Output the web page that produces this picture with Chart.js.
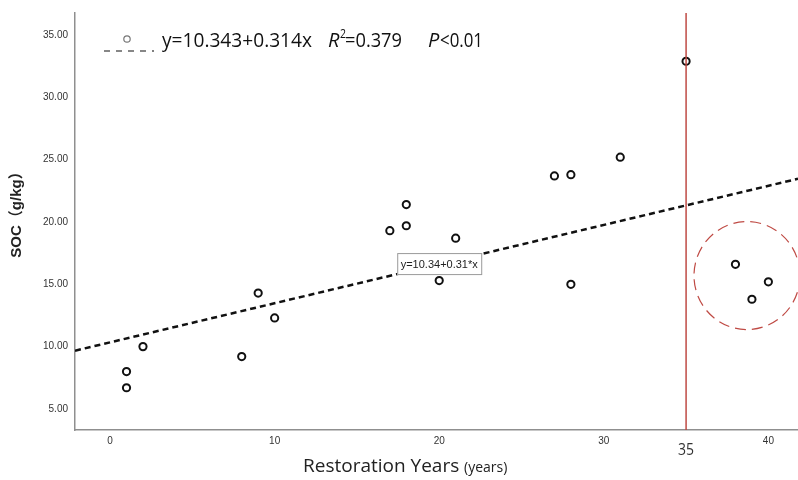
<!DOCTYPE html>
<html>
<head>
<meta charset="utf-8">
<script src="https://cdn.jsdelivr.net/npm/chart.js@4"></script>
<style>
  html, body { margin: 0; padding: 0; background: #fff; overflow: hidden; }
  #wrap { width: 798px; height: 480px; position: relative; }
  canvas { display: block; }
</style>
</head>
<body>
<div id="wrap"><canvas id="socChart"></canvas></div>
<script>
// Data
const years = [1, 1, 2, 8, 9, 10, 17, 18, 18, 20, 21, 27, 28, 28, 31, 35, 38, 39, 40];
const soc = [8.0, 6.7, 10.0, 9.2, 14.3, 12.3, 19.3, 21.4, 19.7, 15.3, 18.7, 23.7, 23.8, 15.0, 25.2, 32.9, 16.6, 13.8, 15.2];
const xTicks = [0, 10, 20, 30, 40];
const yTicks = [5, 10, 15, 20, 25, 30, 35];
const fitCoef = [10.343, 0.314];   // intercept, slope
const fitRange = [-2.13, 41.8];
const cutYear = [35];
const outlierZone = [38.7, 15.7];   // centre (year, SOC)

const axisGray = '#8f8f8f';
const red = '#bf4a44';

const fitPoints = fitRange.map(x => ({ x: x, y: fitCoef[0] + fitCoef[1] * x }));

const overlay = {
    id: 'overlay',
    afterDatasetsDraw(chart) {
        const ctx = chart.ctx;
        const xs = chart.scales.x, ys = chart.scales.y;
        const area = chart.chartArea;

        // vertical line at 35 years
        const cx = xs.getPixelForValue(cutYear[0]);
        ctx.save();
        ctx.strokeStyle = red;
        ctx.lineWidth = 1.5;
        ctx.beginPath();
        ctx.moveTo(cx, area.top);
        ctx.lineTo(cx, area.bottom);
        ctx.stroke();

        // dashed circle round the last three points
        const ex = xs.getPixelForValue(outlierZone[0]);
        const ey = ys.getPixelForValue(outlierZone[1]);
        ctx.setLineDash([11, 6]);
        ctx.lineWidth = 1.2;
        ctx.beginPath();
        ctx.ellipse(ex, ey, 53, 54, 0, 0, Math.PI * 2);
        ctx.stroke();
        ctx.setLineDash([]);

        // "35" under the axis
        ctx.fillStyle = '#333';
        ctx.font = '16px "Open Sans"';
        ctx.textAlign = 'center';
        ctx.textBaseline = 'alphabetic';
        ctx.fillText(String(cutYear[0]), cx, 455, 16);

        // equation box on the fit line
        const bx = xs.getPixelForValue(20);
        const by = ys.getPixelForValue(fitCoef[0] + fitCoef[1] * 20);
        ctx.fillStyle = '#fff';
        ctx.fillRect(bx - 42, by - 11, 85, 22);
        ctx.strokeStyle = '#9a9a9a';
        ctx.lineWidth = 1;
        ctx.strokeRect(bx - 42 + 0.5, by - 11 + 0.5, 84, 21);
        ctx.fillStyle = '#222';
        ctx.font = '11px "Liberation Sans"';
        ctx.textAlign = 'center';
        ctx.textBaseline = 'middle';
        ctx.fillText('y=10.34+0.31*x', bx, by + 1, 78);

        // legend
        ctx.strokeStyle = '#777';
        ctx.lineWidth = 1.2;
        ctx.beginPath();
        ctx.arc(127, 39, 3.2, 0, Math.PI * 2);
        ctx.stroke();
        ctx.strokeStyle = '#555';
        ctx.lineWidth = 1.4;
        ctx.setLineDash([6, 6]);
        ctx.beginPath();
        ctx.moveTo(104, 51);
        ctx.lineTo(154, 51);
        ctx.stroke();
        ctx.setLineDash([]);

        ctx.fillStyle = '#111';
        ctx.textAlign = 'left';
        ctx.textBaseline = 'alphabetic';
        ctx.font = '20px "Open Sans"';
        ctx.fillText('y=10.343+0.314x', 162, 47, 150);
        ctx.font = 'italic 20px "Open Sans"';
        ctx.fillText('R', 328, 47, 12);
        ctx.font = '12px "Open Sans"';
        ctx.fillText('2', 340, 38, 6);
        ctx.font = '20px "Open Sans"';
        ctx.fillText('=0.379', 345, 47, 57);
        ctx.font = 'italic 20px "Open Sans"';
        ctx.fillText('P', 428, 47, 12);
        ctx.font = '20px "Open Sans"';
        ctx.fillText('<0.01', 440, 47, 43);

        // x axis title
        ctx.fillStyle = '#222';
        ctx.font = '19px "Open Sans"';
        ctx.fillText('Restoration Years', 303, 472, 159);
        ctx.font = '14px "Open Sans"';
        ctx.fillText('(years)', 464, 472, 44);

        // y axis title
        ctx.translate(21, 211);
        ctx.rotate(-Math.PI / 2);
        ctx.textAlign = 'center';
        ctx.font = 'bold 15px "Liberation Sans", "Noto Sans CJK SC"';
        ctx.fillText('SOC（g/kg）', 0, 0);
        ctx.restore();
    }
};

new Chart(document.getElementById('socChart'), {
    type: 'scatter',
    data: {
        datasets: [{
            label: 'SOC',
            data: years.map((x, i) => ({ x: x, y: soc[i] })),
            pointRadius: 3.6,
            pointBorderWidth: 2,
            pointBorderColor: '#111',
            pointBackgroundColor: '#fff',
            order: 0
        }, {
            label: 'fit',
            type: 'line',
            data: fitPoints,
            showLine: true,
            borderColor: '#111',
            borderWidth: 2.5,
            borderDash: [6, 4],
            pointRadius: 0,
            fill: false,
            order: 1
        }]
    },
    options: {
        responsive: true,
        maintainAspectRatio: false,
        animation: false,
        layout: { autoPadding: false, padding: { top: 13, left: 0, right: 0, bottom: 0 } },
        plugins: {
            legend: { display: false },
            tooltip: { enabled: false }
        },
        scales: {
            x: {
                type: 'linear',
                min: fitRange[0],
                max: fitRange[1],
                grid: { display: false, drawTicks: false },
                border: { display: true, color: axisGray, width: 1.5 },
                afterBuildTicks: s => { s.ticks = xTicks.map(v => ({ value: v })); },
                afterFit: s => { s.height = 50; s.paddingLeft = 0; s.paddingRight = 0; },
                ticks: {
                    padding: 5,
                    color: '#333',
                    font: { family: 'Liberation Sans', size: 10 },
                    maxRotation: 0
                }
            },
            y: {
                min: 3.31,
                max: 36.77,
                grid: { display: false, drawTicks: false },
                border: { display: true, color: axisGray, width: 1.5 },
                afterBuildTicks: s => { s.ticks = yTicks.map(v => ({ value: v })); },
                afterFit: s => { s.width = 75; s.paddingTop = 0; s.paddingBottom = 0; },
                ticks: {
                    padding: 7,
                    color: '#333',
                    font: { family: 'Liberation Sans', size: 10 },
                    callback: v => Number(v).toFixed(2)
                }
            }
        }
    },
    plugins: [overlay]
});
</script>
</body>
</html>
